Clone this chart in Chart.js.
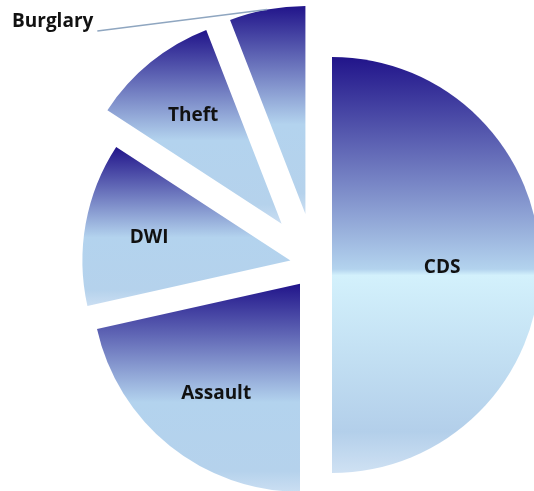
<!DOCTYPE html>
<html>
<head>
<meta charset="utf-8">
<script src="https://cdn.jsdelivr.net/npm/chart.js@4.4.1/dist/chart.umd.min.js"></script>
<style>
  html, body { margin: 0; padding: 0; background: #fff; }
  #wrap { width: 534px; height: 491px; position: relative; }
</style>
</head>
<body>
<div id="wrap"><canvas id="pieCargos"></canvas></div>
<script>
const categorias = ['CDS', 'Assault', 'DWI', 'Theft', 'Burglary'];
const porcentajes = [50.0, 21.5, 12.7, 9.9, 5.9];

// explode distance of each slice in px, and where its label sits (fraction of radius)
const separacion = [17, 24, 25, 53, 52];
const posEtiqueta = [0.52, 0.66, 0.70, 0.69, null];

const fuente = 'bold 19px "Open Sans"';

function gradiente(ctx, arc, conBanda) {
  let top = arc.y, bottom = arc.y;
  for (let k = 0; k <= 64; k++) {
    const a = arc.startAngle + (arc.endAngle - arc.startAngle) * k / 64;
    const y = arc.y + Math.sin(a) * arc.outerRadius;
    top = Math.min(top, y);
    bottom = Math.max(bottom, y);
  }
  const g = ctx.createLinearGradient(0, top, 0, bottom);
  g.addColorStop(0, '#21148a');
  if (conBanda) {
    g.addColorStop(0.51, '#b3d3ee');
    g.addColorStop(0.525, '#d3f1fc');
    g.addColorStop(0.9, '#b3cfea');
    g.addColorStop(1, '#cfe1f3');
  } else {
    g.addColorStop(0.57, '#b3d3ee');
    g.addColorStop(0.9, '#b5d2ec');
    g.addColorStop(1, '#cadef2');
  }
  return g;
}

const explotar = {
  id: 'explotar',
  afterDatasetUpdate(chart, args) {
    args.meta.data.forEach((arc, i) => {
      const mid = (arc.startAngle + arc.endAngle) / 2;
      arc.x += Math.cos(mid) * separacion[i];
      arc.y += Math.sin(mid) * separacion[i];
    });
  },
  beforeDatasetsDraw(chart) {
    const ctx = chart.ctx;
    chart.getDatasetMeta(0).data.forEach((arc, i) => {
      arc.options.backgroundColor = gradiente(ctx, arc, i === 0);
    });
  },
  afterDatasetsDraw(chart) {
    const ctx = chart.ctx;
    const arcs = chart.getDatasetMeta(0).data;
    ctx.save();
    ctx.font = fuente;
    ctx.fillStyle = '#111';
    ctx.textAlign = 'center';
    ctx.textBaseline = 'middle';
    arcs.forEach((arc, i) => {
      if (posEtiqueta[i] == null) return;
      const mid = (arc.startAngle + arc.endAngle) / 2;
      const r = arc.outerRadius * posEtiqueta[i];
      ctx.fillText(categorias[i], arc.x + Math.cos(mid) * r + 2, arc.y + Math.sin(mid) * r + 3);
    });
    // Burglary sits outside with a leader line
    const b = arcs[4];
    const mid = (b.startAngle + b.endAngle) / 2;
    ctx.textAlign = 'left';
    ctx.fillText(categorias[4], 12, 22);
    const w = ctx.measureText(categorias[4]).width;
    ctx.strokeStyle = '#8fa6c0';
    ctx.lineWidth = 1.5;
    ctx.beginPath();
    ctx.moveTo(12 + w + 4, 31);
    ctx.lineTo(b.x + Math.cos(mid) * b.outerRadius, b.y + Math.sin(mid) * b.outerRadius);
    ctx.stroke();
    ctx.restore();
  }
};

new Chart(document.getElementById('pieCargos'), {
  type: 'pie',
  data: {
    labels: categorias,
    datasets: [{
      data: porcentajes,
      backgroundColor: categorias.map(() => '#b3d3ee'),
      borderWidth: 0,
      radius: 208
    }]
  },
  options: {
    responsive: true,
    maintainAspectRatio: false,
    animation: false,
    events: [],
    layout: { padding: { left: 96, top: 39, right: 0, bottom: 0 } },
    plugins: {
      legend: { display: false },
      tooltip: { enabled: false }
    }
  },
  plugins: [explotar]
});
</script>
</body>
</html>
